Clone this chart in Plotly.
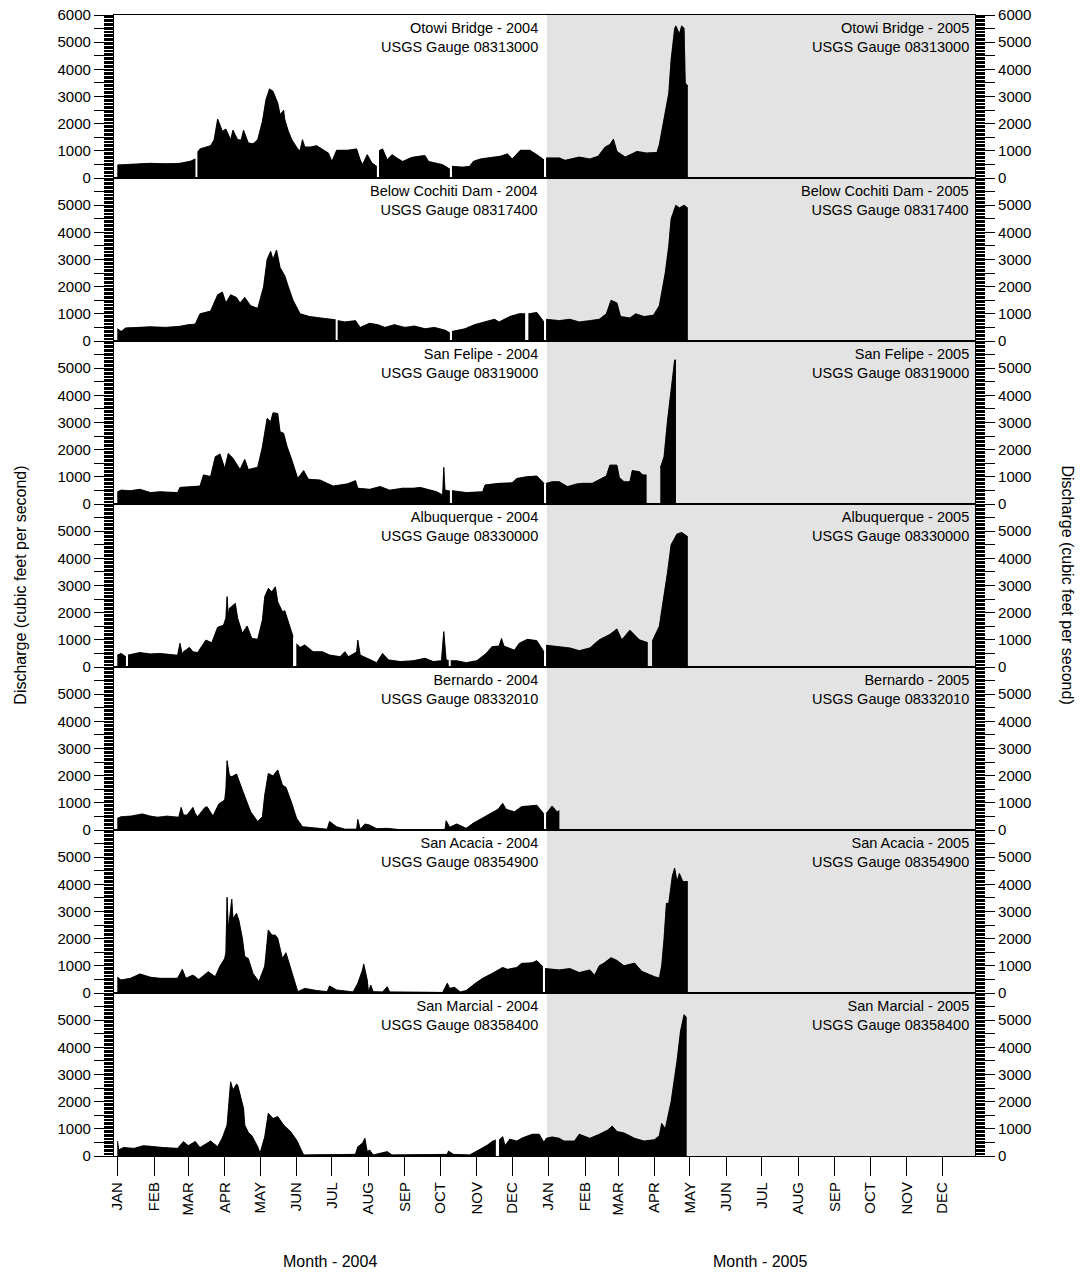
import pandas as pd
import plotly.graph_objects as go

# ---------------- data (day offset from 2004-01-01, discharge cfs; None = missing day) ----------------
STATIONS = ["Otowi Bridge", "Below Cochiti Dam", "San Felipe", "Albuquerque",
            "Bernardo", "San Acacia", "San Marcial"]
GAUGES = ["08313000", "08317400", "08319000", "08330000",
          "08332010", "08354900", "08358400"]
MONTHS = ["JAN", "FEB", "MAR", "APR", "MAY", "JUN", "JUL", "AUG", "SEP", "OCT", "NOV", "DEC"]
YEARS = [2004, 2005]

OTOWI_DAYS = [0, 15, 28, 41, 53, 62, 66, 67, 68, 70,
              79, 82, 85, 89, 92, 96, 98, 102, 105, 107,
              111, 115, 119, 123, 126, 129, 132, 136, 138, 141,
              142, 145, 148, 153, 155, 157, 159, 164, 169, 174,
              179, 182, 186, 195, 203, 206, 208, 212, 216, 220,
              221, 222, 225, 229, 233, 237, 242, 250, 257, 261, 264,
              271, 276, 282, 283, 284, 293, 299, 302, 308, 316,
              325, 331, 335, 342, 350, 356, 362, 363, 364, 375,
              380, 392, 401, 408, 414, 418, 421, 424, 431, 441,
              449, 458, 460, 464, 468, 470, 473, 474, 477, 479,
              481, 482, 484]
OTOWI_Q = [480, 520, 540, 520, 540, 620, 700, None, 950, 1070,
           1190, 1400, 2170, 1720, 1800, 1410, 1760, 1410, 1400, 1760,
           1290, 1260, 1410, 2080, 2880, 3280, 3190, 2760, 2330, 2490,
           2150, 1720, 1410, 1070, 1000, 1410, 1140, 1140, 1190, 1070,
           920, 610, 1020, 1020, 1070, 670, 490, 860, 550, 430,
           None, 1000, 1070, 670, 860, 740, 610, 760, 800, 830, 610,
           550, 490, 330, None, 430, 400, 430, 610, 700, 740,
           800, 890, 700, 1020, 1020, 860, 670, None, 740, 740,
           650, 770, 700, 800, 1140, 1230, 1430, 980, 770, 980,
           920, 940, 1230, 2140, 3120, 4350, 5500, 5600, 5300, 5600,
           5500, 3500, 3400]

COCHITI_DAYS = [0, 3, 7, 15, 28, 41, 53, 60, 66, 70,
                75, 79, 85, 89, 92, 96, 101, 104, 108, 113,
                119, 124, 127, 130, 132, 135, 138, 142, 145, 149,
                155, 163, 172, 180, 185, 186, 187, 193, 202, 206, 214,
                221, 227, 235, 244, 252, 261, 269, 278, 282, 283,
                284, 295, 303, 312, 320, 324, 333, 341, 346, 347,
                349, 356, 362, 363, 364, 375, 384, 392, 401, 409,
                415, 419, 424, 427, 435, 440, 447, 455, 460, 465,
                468, 470, 474, 477, 481, 484]
COCHITI_Q = [450, 350, 480, 500, 520, 500, 540, 600, 620, 1000,
             1050, 1100, 1700, 1800, 1400, 1700, 1600, 1400, 1600, 1300,
             1200, 2000, 3000, 3300, 3000, 3350, 2700, 2400, 2000, 1500,
             1000, 900, 850, 800, 780, None, 750, 700, 750, 500, 650,
             600, 500, 600, 500, 550, 450, 500, 400, 300, None,
             350, 450, 600, 700, 800, 700, 900, 1000, 1000, None,
             1000, 1050, 700, None, 800, 750, 800, 700, 750, 800,
             1000, 1500, 1400, 900, 850, 1000, 900, 950, 1300, 2500,
             3500, 4500, 5000, 4900, 5000, 4900]

FELIPE_DAYS = [0, 3, 11, 19, 28, 36, 51, 53, 70, 73,
               79, 83, 87, 91, 94, 98, 104, 108, 111, 119,
               123, 127, 130, 132, 136, 138, 141, 144, 148, 153,
               158, 162, 172, 183, 195, 202, 204, 214, 223, 231,
               242, 251, 257, 263, 271, 276, 277, 278, 282, 283, 284,
               296, 310, 312, 324, 335, 339, 347, 356, 362, 363,
               364, 369, 375, 382, 390, 395, 403, 409, 415, 418,
               424, 426, 430, 435, 437, 443, 446, 449, 455, 461,
               464, 467, 471, 473, 474]
FELIPE_Q = [450, 510, 490, 540, 420, 450, 420, 610, 660, 1070,
            1010, 1740, 1840, 1310, 1860, 1680, 1270, 1640, 1270, 1350,
            2110, 3150, 3030, 3360, 3330, 2660, 2600, 2110, 1620, 940,
            1230, 910, 880, 660, 740, 860, 580, 540, 640, 510,
            580, 580, 610, 540, 450, 330, 1350, 510, 480, None, 490,
            420, 450, 700, 760, 780, 940, 1000, 1030, 760, None,
            760, 820, 820, 640, 740, 760, 760, 910, 1030, 1430,
            1430, 980, 820, 820, 1230, 1190, 1070, 1070, None, 1350,
            1740, 3090, 4560, 5300, 5300]

ABQ_DAYS = [0, 3, 7, 8, 9, 19, 28, 36, 51, 53,
            55, 56, 61, 64, 68, 75, 80, 85, 90, 92,
            93, 94, 95, 97, 100, 102, 106, 110, 114, 119,
            123, 125, 128, 131, 134, 136, 140, 142, 147, 149,
            150, 152, 155, 159, 166, 174, 180, 189, 193, 196,
            199, 203, 204, 206, 214, 220, 225, 230, 240, 251,
            261, 268, 275, 277, 279, 281, 282, 283, 288, 296, 305, 313,
            318, 324, 326, 328, 337, 341, 348, 356, 362, 363,
            364, 375, 384, 392, 401, 409, 418, 424, 428, 435,
            443, 450, 452, 454, 460, 467, 470, 475, 479, 484]
ABQ_Q = [440, 500, 380, None, 440, 530, 480, 500, 430, 870,
         450, 560, 720, 560, 530, 990, 890, 1460, 1540, 1800,
         2590, 1900, 2160, 2220, 2340, 1790, 1240, 1510, 1050, 1020,
         1730, 2590, 2890, 2770, 2950, 2400, 2030, 2070, 1420, 1120,
         None, 850, 720, 810, 560, 560, 440, 380, 560, 380,
         440, 550, 990, 440, 280, 160, 500, 260, 200, 230,
         320, 200, 230, 1300, 260, 240, None, 230, 230, 160, 230, 500,
         750, 770, 1050, 770, 620, 870, 1020, 970, 560, None,
         800, 750, 700, 600, 700, 1000, 1200, 1400, 1000, 1350,
         1000, 900, None, 950, 1500, 3500, 4500, 4900, 4950, 4800]

BERNARDO_DAYS = [0, 3, 11, 21, 28, 34, 42, 52, 54, 56,
                 59, 64, 66, 68, 74, 76, 81, 86, 91, 92,
                 93, 95, 97, 101, 106, 110, 113, 119, 123, 125,
                 128, 132, 136, 140, 143, 148, 152, 157, 163, 178,
                 180, 186, 193, 203, 204, 206, 210, 214, 220, 229,
                 240, 278, 279, 282, 288, 296, 302, 309, 316, 323,
                 327, 330, 337, 343, 356, 362, 363, 364, 369, 373,
                 375]
BERNARDO_Q = [430, 490, 510, 590, 510, 470, 510, 470, 830, 550,
              550, 830, 600, 490, 820, 860, 510, 960, 1100, 1500,
              2550, 2000, 1960, 2060, 1470, 980, 670, 310, 490, 1290,
              2080, 1990, 2210, 1650, 1570, 980, 430, 120, 100, 30,
              310, 120, 30, 30, 390, 30, 220, 180, 50, 60,
              10, 10, 340, 100, 220, 60, 250, 430, 610, 760,
              980, 760, 670, 860, 910, 590, None, 610, 880, 670,
              710]

ACACIA_DAYS = [0, 3, 11, 19, 28, 36, 51, 55, 58, 64,
               69, 77, 83, 87, 91, 92, 93, 94, 95, 97,
               98, 101, 103, 106, 108, 111, 115, 120, 125, 128,
               131, 134, 136, 140, 143, 145, 149, 153, 159, 169,
               178, 180, 186, 200, 204, 208, 209, 212, 213, 215,
               217, 225, 229, 231, 276, 280, 282, 286, 291, 296,
               303, 310, 318, 327, 331, 339, 343, 352, 356, 361,
               362, 363, 375, 384, 392, 401, 405, 409, 413, 419,
               424, 430, 439, 445, 450, 456, 460, 462, 464, 466,
               468, 471, 473, 475, 477, 480, 484]
ACACIA_Q = [580, 480, 540, 700, 580, 540, 540, 870, 540, 660,
            500, 780, 600, 990, 1270, 1500, 3520, 2400, 2680, 3450,
            2740, 2930, 2680, 2010, 1340, 1270, 720, 420, 990, 2320,
            2130, 2130, 2010, 1270, 1480, 1210, 660, 50, 170, 90,
            50, 260, 110, 40, 360, 850, 1070, 480, 50, 290,
            50, 40, 230, 40, 20, 360, 170, 210, 40, 90,
            330, 540, 720, 940, 870, 940, 1090, 1110, 1190, 970,
            None, 900, 850, 900, 750, 850, 650, 1000, 1100, 1300,
            1200, 1000, 1100, 800, 700, 600, 550, 1000, 2000, 3300,
            3300, 4300, 4600, 4100, 4400, 4100, 4100]

MARCIAL_DAYS = [0, 1, 5, 14, 22, 30, 39, 51, 56, 60,
                66, 70, 79, 85, 89, 93, 96, 98, 101, 102,
                107, 108, 111, 114, 119, 121, 125, 128, 132, 136,
                141, 147, 152, 158, 169, 202, 204, 208, 210, 212,
                214, 217, 229, 233, 280, 281, 285, 299, 305, 314,
                318, 321, 322, 324, 327, 329, 333, 339, 344, 352,
                358, 362, 364, 369, 375, 379, 388, 392, 401, 409,
                416, 420, 424, 430, 439, 447, 456, 460, 462, 465,
                470, 475, 478, 481, 483]
MARCIAL_Q = [550, 220, 310, 280, 380, 340, 310, 280, 530, 380,
             530, 310, 550, 340, 670, 1140, 2730, 2430, 2640, 2610,
             1750, 1140, 870, 750, 340, 100, 710, 1570, 1380, 1450,
             1140, 890, 590, 40, 40, 60, 340, 470, 650, 160,
             220, 40, 160, 40, 60, 180, 60, 40, 180, 400,
             530, 590, None, 590, 710, 380, 620, 550, 670, 800,
             800, 500, 650, 700, 650, 550, 550, 800, 650, 800,
             950, 1100, 900, 850, 650, 550, 600, 750, 1200, 1000,
             2000, 3500, 4600, 5200, 5100]

SERIES = [(OTOWI_DAYS, OTOWI_Q), (COCHITI_DAYS, COCHITI_Q), (FELIPE_DAYS, FELIPE_Q),
          (ABQ_DAYS, ABQ_Q), (BERNARDO_DAYS, BERNARDO_Q), (ACACIA_DAYS, ACACIA_Q),
          (MARCIAL_DAYS, MARCIAL_Q)]

# ---------------- helpers ----------------
START = pd.Timestamp("2004-01-01")
X_RANGE = ["2003-12-29", "2005-12-29"]
SHADE_START = "2004-12-30 12:00"
FONT = "Liberation Sans, Arial, sans-serif"


def segments(days, vals):
    assert len(days) == len(vals), (len(days), len(vals))
    segs, cx, cy = [], [], []
    for d, v in zip(days, vals):
        if v is None:
            if cx:
                segs.append((cx, cy))
            cx, cy = [], []
        else:
            cx.append((START + pd.Timedelta(days=d)).strftime("%Y-%m-%d %H:%M"))
            cy.append(v)
    if cx:
        segs.append((cx, cy))
    return segs


N = len(STATIONS)
fig = go.Figure()

for k, (days, vals) in enumerate(SERIES):
    xa = "x" if k == 0 else f"x{k+1}"
    ya_left = "y" if k == 0 else f"y{k+1}"
    ya_right = f"y{N + k + 1}"
    # the same series is bound to both the left and right discharge axes (identical scales),
    # so that both axes of every panel are drawn
    for ya in (ya_left, ya_right):
        for sx, sy in segments(days, vals):
            fig.add_trace(go.Scatter(x=sx, y=sy, xaxis=xa, yaxis=ya, mode="lines",
                                     line=dict(color="black", width=0.6),
                                     fill="tozeroy", fillcolor="black",
                                     hoverinfo="skip", showlegend=False))

month_vals = [f"{y}-{m:02d}-01" for y in YEARS for m in range(1, 13)]
month_text = MONTHS * len(YEARS)

ytickvals = list(range(0, 6001, 500))

layout = dict(
    width=1080, height=1275, autosize=False,
    margin=dict(l=114, r=105, t=15, b=119),
    paper_bgcolor="white", plot_bgcolor="rgba(0,0,0,0)",
    font=dict(family=FONT, size=15, color="black"),
    showlegend=False, hovermode=False,
)

for k in range(N):
    top = 1 - k / N
    bot = 1 - (k + 1) / N
    xid = "x" if k == 0 else f"x{k+1}"
    yid = "y" if k == 0 else f"y{k+1}"
    xname = "xaxis" if k == 0 else f"xaxis{k+1}"
    yname = "yaxis" if k == 0 else f"yaxis{k+1}"
    rname = f"yaxis{N + k + 1}"
    last = (k == N - 1)
    xa = dict(type="date", range=X_RANGE, domain=[0, 1], anchor=yid,
              showline=True, linecolor="black", linewidth=1.2, mirror=True,
              showgrid=False, zeroline=False, automargin=False,
              showticklabels=last, ticks="outside" if last else "")
    if k > 0:
        xa["matches"] = "x"
    if last:
        xa.update(tickmode="array", tickvals=month_vals, ticktext=month_text,
                  tickangle=-90, ticklen=19, tickwidth=1.2, tickcolor="black",
                  tickfont=dict(size=15, family=FONT, color="black"))
    layout[xname] = xa

    ytext = [str(v) if (v % 1000 == 0 and (v < 6000 or k == 0)) else "" for v in ytickvals]
    common = dict(range=[0, 6000], domain=[bot, top], showline=True, linecolor="black",
                  linewidth=1.2, showgrid=False, zeroline=False, automargin=False,
                  tickmode="array", tickvals=ytickvals, ticktext=ytext,
                  ticks="outside", ticklen=19, tickwidth=1, tickcolor="black",
                  tickfont=dict(size=15, family=FONT, color="black"),
                  minor=dict(ticks="outside", ticklen=9, tickwidth=1, tickcolor="black",
                             tickmode="linear", tick0=0, dtick=50))
    layout[yname] = dict(common, anchor=xid, side="left")
    layout[rname] = dict(common, anchor=xid, side="right", overlaying=yid)

fig.update_layout(**layout)

# shaded 2005 region
fig.add_shape(type="rect", xref="x", yref="paper", x0=SHADE_START, x1=X_RANGE[1],
              y0=0, y1=1, fillcolor="#e3e3e3", line=dict(width=0), layer="below")

# station labels
for k in range(N):
    top = 1 - k / N
    for year, xp in zip(YEARS, [0.495, 0.995]):
        fig.add_annotation(xref="paper", yref="paper", x=xp, y=top, yshift=-3,
                           xanchor="right", yanchor="top", align="right", showarrow=False,
                           text=f"{STATIONS[k]} - {year}<br>USGS Gauge {GAUGES[k]}",
                           font=dict(size=14.5, family=FONT, color="black"))

# axis titles
ytitle = "Discharge (cubic feet per second)"
fig.add_annotation(xref="paper", yref="paper", x=-0.109, y=0.5, text=ytitle, textangle=-90,
                   showarrow=False, xanchor="center", yanchor="middle",
                   font=dict(size=16, family=FONT, color="black"))
fig.add_annotation(xref="paper", yref="paper", x=1.108, y=0.5, text=ytitle, textangle=90,
                   showarrow=False, xanchor="center", yanchor="middle",
                   font=dict(size=16, family=FONT, color="black"))
for year, xp in zip(YEARS, [0.251, 0.750]):
    fig.add_annotation(xref="paper", yref="paper", x=xp, y=-0.0929, text=f"Month - {year}",
                       showarrow=False, xanchor="center", yanchor="middle",
                       font=dict(size=16, family=FONT, color="black"))

# remove the browser's default 8px page margin so the figure fills the window exactly
fig.write_html("out.html", config={"displayModeBar": False},
               post_script="document.body.style.margin='0';")
